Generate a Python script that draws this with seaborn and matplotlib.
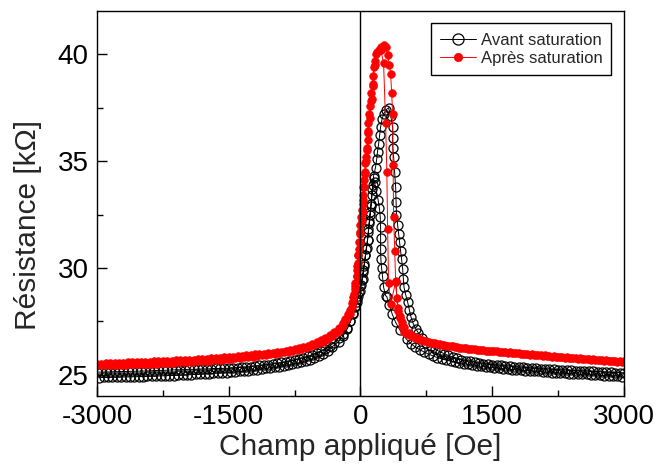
import matplotlib
matplotlib.use("Agg")
import matplotlib.pyplot as plt
import seaborn as sns
from matplotlib.ticker import MultipleLocator

# ---- Avant saturation, sweep up (-3000 -> +3000) ----
av_up_left_x = [-3000, -2950, -2900, -2850, -2800, -2750, -2700, -2650, -2600, -2550,
                -2500, -2450, -2400, -2350, -2300, -2250, -2200, -2150, -2100, -2050,
                -2000, -1950, -1900, -1850, -1800, -1750, -1700, -1650, -1600, -1550,
                -1500, -1450, -1400, -1350, -1300, -1250, -1200, -1150, -1100, -1050,
                -1000, -950, -900, -850, -800, -750, -700, -650, -600, -550, -500, -450,
                -400, -350, -300]
av_up_left_y = [25.12, 25.12, 25.13, 25.13, 25.14, 25.14, 25.15, 25.15, 25.16, 25.16,
                25.17, 25.17, 25.18, 25.19, 25.2, 25.2, 25.21, 25.22, 25.23, 25.23,
                25.24, 25.25, 25.25, 25.26, 25.27, 25.27, 25.28, 25.29, 25.29, 25.3,
                25.3, 25.32, 25.33, 25.35, 25.36, 25.38, 25.4, 25.43, 25.45, 25.47,
                25.5, 25.53, 25.57, 25.6, 25.64, 25.69, 25.74, 25.8, 25.86, 25.94, 26.02, 26.11,
                26.22, 26.35, 26.5]
av_up_core_x = [-250, -200, -150, -114, -80, -57, -35, -20, 0, 15, 30, 40, 57, 70, 80, 91,
                100, 110, 120, 130, 140, 149, 171, 185, 194, 206, 218, 229, 245, 263, 290,
                320, 345, 366, 366, 368, 377, 388, 400, 405, 410, 423, 434, 445, 457, 468,
                480, 488, 495, 514, 537, 555, 575, 600, 630, 660]
av_up_core_y = [26.7, 26.9, 27.2, 27.5, 27.9, 28.2, 28.55, 28.85, 29.15, 29.45, 29.8, 30.1,
                30.6, 30.95, 31.3, 31.7, 32.1, 32.5, 32.9, 33.4, 33.9, 34.3, 34.7, 35.1, 35.45,
                35.8, 36.2, 36.6, 36.95, 37.2, 37.4, 37.5, 37.1, 36.6, 36.1, 35.6, 35.2, 34.5,
                33.8, 33.1, 32.5, 32.0, 31.6, 31.2, 30.8, 30.4, 29.95, 29.5, 29.1, 28.75, 28.4,
                28.05, 27.7, 27.4, 27.15, 26.95]
av_up_right_x = [700, 750, 800, 850, 900, 950, 1000, 1050, 1100, 1150, 1200, 1250, 1300,
                 1350, 1400, 1450, 1500, 1550, 1600, 1650, 1700, 1750, 1800, 1850, 1900,
                 1950, 2000, 2050, 2100, 2150, 2200, 2250, 2300, 2350, 2400, 2450, 2500,
                 2550, 2600, 2650, 2700, 2750, 2800, 2850, 2900, 2950, 3000]
av_up_right_y = [26.72, 26.5, 26.33, 26.2, 26.08, 25.99, 25.9, 25.83, 25.76, 25.71, 25.66,
                 25.62, 25.58, 25.55, 25.52, 25.49, 25.47, 25.45, 25.43, 25.41, 25.4, 25.38,
                 25.36, 25.34, 25.33, 25.31, 25.3, 25.28, 25.27, 25.26, 25.25, 25.23, 25.22,
                 25.21, 25.2, 25.19, 25.18, 25.17, 25.16, 25.15, 25.14, 25.13, 25.12, 25.11,
                 25.1, 25.09, 25.08]

# ---- Avant saturation, sweep down (+3000 -> -3000) ----
av_dn_right_x = [2975, 2925, 2875, 2825, 2775, 2725, 2675, 2625, 2575, 2525, 2475, 2425,
                 2375, 2325, 2275, 2225, 2175, 2125, 2075, 2025, 1975, 1925, 1875, 1825,
                 1775, 1725, 1675, 1625, 1575, 1525, 1475, 1425, 1375, 1325, 1275, 1225,
                 1175, 1125, 1075, 1025, 975, 925, 875, 825, 775, 725, 675, 625]
av_dn_right_y = [24.91, 24.93, 24.94, 24.95, 24.96, 24.97, 24.98, 25.0, 25.01, 25.02, 25.03,
                 25.04, 25.05, 25.06, 25.08, 25.09, 25.1, 25.12, 25.13, 25.15, 25.16, 25.18,
                 25.19, 25.21, 25.22, 25.24, 25.26, 25.28, 25.3, 25.32, 25.34, 25.36, 25.39,
                 25.42, 25.45, 25.48, 25.51, 25.55, 25.59, 25.63, 25.68, 25.74, 25.8, 25.88,
                 25.96, 26.06, 26.17, 26.29]
av_dn_core_x = [575, 525, 450, 400, 360, 330, 300, 286, 263, 251, 240, 232, 229, 229, 229,
                225, 215, 200, 180, 160, 149, 135, 120, 110, 100, 91, 80, 65, 57, 45, 34,
                23, 10, -10, -23, -40, -57, -80, -114, -150, -200, -250]
av_dn_core_y = [26.45, 26.65, 27.08, 27.45, 27.85, 28.25, 28.65, 28.7, 29.1, 29.6, 30.0,
                30.4, 30.9, 31.4, 31.9, 32.4, 32.8, 33.2, 33.6, 34.0, 34.2, 33.7, 33.0, 32.6,
                32.2, 31.8, 31.3, 30.9, 30.6, 30.2, 29.9, 29.5, 29.2, 28.9, 28.7, 28.4, 28.15,
                27.85, 27.5, 27.15, 26.8, 26.55]
av_dn_left_x = [-325, -375, -425, -475, -525, -575, -625, -675, -725, -775, -825, -875,
                -925, -975, -1025, -1075, -1125, -1175, -1225, -1275, -1325, -1375, -1425,
                -1475, -1525, -1575, -1625, -1675, -1725, -1775, -1825, -1875, -1925, -1975,
                -2025, -2075, -2125, -2175, -2225, -2275, -2325, -2375, -2425, -2475, -2525,
                -2575, -2625, -2675, -2725, -2775, -2825, -2875, -2925, -2975]
av_dn_left_y = [26.3, 26.13, 25.99, 25.88, 25.79, 25.71, 25.64, 25.58, 25.53, 25.49, 25.45,
                25.41, 25.38, 25.35, 25.32, 25.29, 25.26, 25.24, 25.21, 25.19, 25.17, 25.15,
                25.13, 25.12, 25.1, 25.09, 25.07, 25.06, 25.05, 25.04, 25.02, 25.01, 25.0,
                24.99, 24.98, 24.97, 24.96, 24.96, 24.95, 24.94, 24.93, 24.93, 24.92, 24.91,
                24.91, 24.9, 24.9, 24.89, 24.89, 24.88, 24.88, 24.87, 24.87, 24.86]

# ---- Apres saturation, sweep up ----
ap_up_left_x = [-3000, -2950, -2900, -2850, -2800, -2750, -2700, -2650, -2600, -2550,
                -2500, -2450, -2400, -2350, -2300, -2250, -2200, -2150, -2100, -2050,
                -2000, -1950, -1900, -1850, -1800, -1750, -1700, -1650, -1600, -1550,
                -1500, -1450, -1400, -1350, -1300, -1250, -1200, -1150, -1100, -1050,
                -1000, -950, -900, -850, -800, -750, -700, -650, -600, -550, -500, -450,
                -400, -350, -300]
ap_up_left_y = [25.52, 25.52, 25.53, 25.54, 25.55, 25.55, 25.56, 25.57, 25.58, 25.58,
                25.59, 25.6, 25.61, 25.62, 25.63, 25.64, 25.65, 25.66, 25.67, 25.68,
                25.69, 25.7, 25.71, 25.72, 25.74, 25.75, 25.77, 25.78, 25.8, 25.81,
                25.83, 25.85, 25.87, 25.89, 25.91, 25.93, 25.95, 25.96, 25.98, 26.0,
                26.02, 26.05, 26.08, 26.11, 26.15, 26.19, 26.24, 26.3, 26.36, 26.44, 26.52, 26.61,
                26.72, 26.85, 27.0]
ap_up_core_x = [-250, -200, -171, -140, -114, -95, -80, -65, -57, -45, -35, -30, -25, -20,
                -15, -8, 0, 10, 20, 23, 30, 34, 40, 50, 57, 65, 75, 80, 85, 91, 100, 114,
                130, 125, 137, 145, 149, 160, 175, 206, 235, 263, 286, 309, 330, 343, 355,
                366, 372, 377, 390, 400, 415, 430]
ap_up_core_y = [27.2, 27.42, 27.62, 27.85, 28.05, 28.35, 28.65, 29.0, 29.3, 29.6, 29.9,
                30.25, 30.6, 30.9, 31.2, 31.6, 32.0, 32.4, 32.7, 33.0, 33.4, 33.8, 34.1, 34.5,
                34.9, 35.2, 35.6, 36.0, 36.4, 36.8, 37.2, 37.6, 37.9, 38.2, 38.6, 39.0, 39.4,
                39.7, 40.0, 40.2, 40.35, 40.42, 40.35, 39.95, 39.5, 39.1, 38.2, 37.2, 34.8,
                32.4, 30.8, 29.4, 28.6, 28.1]
ap_up_right_x = [450, 475, 500, 550, 600, 650, 700, 750, 800, 850, 900, 950, 1000, 1050,
                 1100, 1150, 1200, 1250, 1300, 1350, 1400, 1450, 1500, 1550, 1600, 1650,
                 1700, 1750, 1800, 1850, 1900, 1950, 2000, 2050, 2100, 2150, 2200, 2250,
                 2300, 2350, 2400, 2450, 2500, 2550, 2600, 2650, 2700, 2750, 2800, 2850,
                 2900, 2950, 3000]
ap_up_right_y = [27.75, 27.45, 27.22, 26.95, 26.8, 26.7, 26.62, 26.56, 26.5, 26.46, 26.42,
                 26.38, 26.35, 26.32, 26.29, 26.26, 26.24, 26.21, 26.19, 26.17, 26.15, 26.13,
                 26.11, 26.09, 26.07, 26.05, 26.04, 26.02, 26.0, 25.98, 25.97, 25.95, 25.94,
                 25.92, 25.9, 25.88, 25.87, 25.85, 25.83, 25.81, 25.8, 25.78, 25.77, 25.75,
                 25.74, 25.72, 25.71, 25.69, 25.68, 25.66, 25.65, 25.63, 25.62]

# ---- Apres saturation, sweep down ----
ap_dn_right_x = [2975, 2925, 2875, 2825, 2775, 2725, 2675, 2625, 2575, 2525, 2475, 2425,
                 2375, 2325, 2275, 2225, 2175, 2125, 2075, 2025, 1975, 1925, 1875, 1825,
                 1775, 1725, 1675, 1625, 1575, 1525, 1475, 1425, 1375, 1325, 1275, 1225,
                 1175, 1125, 1075, 1025, 975, 925, 875, 825, 775, 725, 675, 625, 575, 525]
ap_dn_right_y = [25.6, 25.61, 25.63, 25.64, 25.66, 25.67, 25.69, 25.7, 25.72, 25.73, 25.75,
                 25.76, 25.78, 25.8, 25.82, 25.83, 25.85, 25.87, 25.89, 25.9, 25.92, 25.94,
                 25.96, 25.98, 26.0, 26.02, 26.03, 26.05, 26.07, 26.09, 26.11, 26.13, 26.15,
                 26.17, 26.19, 26.21, 26.24, 26.27, 26.3, 26.33, 26.36, 26.4, 26.43, 26.48,
                 26.52, 26.57, 26.63, 26.7, 26.8, 26.92]
ap_dn_core_x = [500, 470, 445, 425, 400, 343, 320, 309, 300, 286, 263, 230, 190, 160, 140,
                120, 105, 90, 75, 62, 52, 40, 30, 23, 12, 0, -10, -23, -35, -45, -57, -70,
                -85, -100, -125, -160, -200, -250, -275]
ap_dn_core_y = [26.98, 27.3, 27.65, 28.0, 29.35, 28.3, 29.3, 31.8, 34.5, 36.8, 39.6, 40.2,
                40.1, 39.5, 38.5, 37.8, 37.0, 36.3, 35.5, 35.0, 34.4, 33.8, 33.2, 32.6, 32.2,
                31.7, 31.2, 30.6, 30.1, 29.6, 29.15, 28.8, 28.45, 28.15, 27.85, 27.55, 27.3,
                27.05, 26.95]
ap_dn_left_x = [-325, -375, -425, -475, -525, -575, -625, -675, -725, -775, -825, -875,
                -925, -975, -1025, -1075, -1125, -1175, -1225, -1275, -1325, -1375, -1425,
                -1475, -1525, -1575, -1625, -1675, -1725, -1775, -1825, -1875, -1925, -1975,
                -2025, -2075, -2125, -2175, -2225, -2275, -2325, -2375, -2425, -2475, -2525,
                -2575, -2625, -2675, -2725, -2775, -2825, -2875, -2925, -2975]
ap_dn_left_y = [26.8, 26.66, 26.55, 26.46, 26.39, 26.32, 26.26, 26.21, 26.16, 26.12, 26.08,
                26.05, 26.01, 25.98, 25.95, 25.93, 25.9, 25.88, 25.85, 25.83, 25.81, 25.79,
                25.77, 25.75, 25.73, 25.71, 25.69, 25.68, 25.66, 25.65, 25.63, 25.62, 25.61,
                25.6, 25.58, 25.57, 25.56, 25.55, 25.54, 25.53, 25.52, 25.51, 25.51, 25.5,
                25.49, 25.48, 25.48, 25.47, 25.46, 25.46, 25.45, 25.45, 25.44, 25.44]

avant_x = av_up_left_x + av_up_core_x + av_up_right_x + av_dn_right_x + av_dn_core_x + av_dn_left_x
avant_y = av_up_left_y + av_up_core_y + av_up_right_y + av_dn_right_y + av_dn_core_y + av_dn_left_y
apres_x = ap_up_left_x + ap_up_core_x + ap_up_right_x + ap_dn_right_x + ap_dn_core_x + ap_dn_left_x
apres_y = ap_up_left_y + ap_up_core_y + ap_up_right_y + ap_dn_right_y + ap_dn_core_y + ap_dn_left_y

sns.set_style("ticks")
plt.rcParams["font.family"] = ["Liberation Sans", "DejaVu Sans"]
plt.rcParams["axes.unicode_minus"] = False

fig = plt.figure(figsize=(6.58, 4.70), dpi=100)
ax = fig.add_axes([0.1474, 0.1574, 0.8009, 0.8192])

sns.lineplot(x=avant_x, y=avant_y, sort=False, estimator=None, ax=ax,
             color="black", linewidth=0.7, marker="o", markersize=6.5,
             markerfacecolor="none", markeredgecolor="black", markeredgewidth=0.9,
             label="Avant saturation")
sns.lineplot(x=apres_x, y=apres_y, sort=False, estimator=None, ax=ax,
             color="red", linewidth=0.7, marker="o", markersize=5.5,
             markerfacecolor="red", markeredgecolor="red", markeredgewidth=0.5,
             label="Après saturation")

ax.axvline(0, color="black", linewidth=1.0, zorder=5)

ax.set_xlim(-3000, 3000)
ax.set_ylim(24.0, 42.03)
ax.set_xticks([-3000, -1500, 0, 1500, 3000])
ax.set_yticks([25, 30, 35, 40])
ax.xaxis.set_minor_locator(MultipleLocator(750))
ax.yaxis.set_minor_locator(MultipleLocator(2.5))
ax.tick_params(which="both", direction="in", top=False, right=False,
               colors="black", labelsize=20, pad=6)
ax.tick_params(which="major", length=7, width=1)
ax.tick_params(which="minor", length=4.5, width=1)
for s in ax.spines.values():
    s.set_visible(True)
    s.set_color("black")
    s.set_linewidth(1.0)

ax.set_xlabel("Champ appliqué [Oe]", fontsize=21.5, labelpad=2)
ax.set_ylabel("Résistance [kΩ]", fontsize=21.5)
ax.yaxis.set_label_coords(-0.104, 0.444)

leg = ax.legend(loc="upper right", fontsize=12, frameon=True, fancybox=False,
                edgecolor="black", framealpha=1, handlelength=2.2,
                handletextpad=0.25, labelspacing=0.2, borderpad=0.55,
                borderaxespad=0.75)
leg.get_frame().set_linewidth(1.0)
leg.legend_handles[0].set_markersize(8)
leg.legend_handles[1].set_markersize(6)

fig.savefig("out.png", dpi=100)
